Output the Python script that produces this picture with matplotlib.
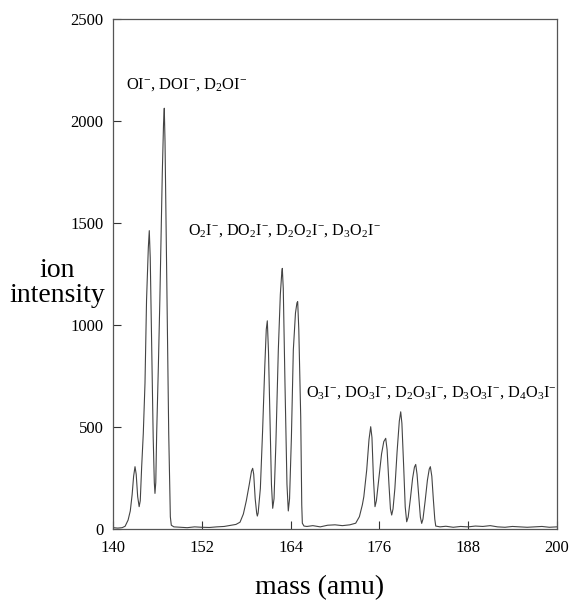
import matplotlib
matplotlib.use("Agg")
import matplotlib.pyplot as plt

plt.rcParams['font.family'] = ['Liberation Serif', 'DejaVu Serif']
plt.rcParams['mathtext.fontset'] = 'custom'
plt.rcParams['mathtext.rm'] = 'Liberation Serif'
plt.rcParams['mathtext.it'] = 'Liberation Serif:italic'
plt.rcParams['mathtext.default'] = 'regular'

# traced spectrum (mass in amu, ion intensity), segment by segment
mass_1 = [140.0, 140.6, 141.2, 141.6, 142.0, 142.3, 142.55, 142.75, 142.94, 143.1, 143.3, 143.5, 143.65]
int_1 = [8, 6, 8, 15, 45, 90, 170, 260, 307, 270, 160, 111, 140]
mass_2 = [143.84, 144.06, 144.29, 144.5, 144.74, 144.87, 145.0, 145.2, 145.4, 145.55, 145.64, 145.75]
int_2 = [307, 470, 716, 1124, 1380, 1464, 1330, 900, 450, 230, 176, 230]
mass_3 = [145.87, 146.1, 146.3, 146.63, 146.8, 146.9, 147.0, 147.22, 147.5, 147.72, 147.85, 148.2]
int_3 = [470, 800, 1124, 1744, 1990, 2064, 1900, 1287, 470, 61, 20, 12]
mass_4 = [149.0, 150.0, 151.0, 152.0, 153.0, 154.0, 155.0, 156.0, 156.6, 157.15, 157.6]
int_4 = [10, 8, 12, 10, 9, 12, 14, 20, 24, 35, 75]
mass_5 = [158.0, 158.4, 158.7, 158.86, 159.0, 159.2, 159.4, 159.49, 159.6, 159.9, 160.2, 160.5, 160.7, 160.84]
int_5 = [140, 220, 285, 299, 270, 150, 80, 65, 80, 200, 480, 800, 980, 1022]
mass_6 = [161.0, 161.2, 161.4, 161.57, 161.75, 162.0, 162.33, 162.6, 162.8, 162.87, 163.0, 163.23, 163.5, 163.68]
int_6 = [870, 552, 220, 103, 150, 420, 879, 1150, 1260, 1279, 1180, 716, 220, 90]
mass_7 = [163.85, 164.1, 164.36, 164.65, 164.85, 164.95, 165.1, 165.36, 165.5, 165.58, 165.8, 166.2]
int_7 = [150, 450, 879, 1060, 1110, 1116, 980, 552, 120, 30, 16, 14]
mass_8 = [167.0, 168.0, 169.0, 170.0, 171.0, 172.0, 172.8, 173.3, 173.7, 173.9, 174.29, 174.6, 174.83]
int_8 = [18, 12, 20, 22, 18, 22, 30, 62, 120, 160, 291, 440, 503]
mass_9 = [175.0, 175.2, 175.41, 175.6, 175.9, 176.3, 176.6, 176.86, 177.05, 177.3, 177.5, 177.67, 177.85]
int_9 = [450, 250, 111, 140, 240, 370, 430, 446, 390, 220, 100, 70, 100]
mass_10 = [178.1, 178.4, 178.7, 178.89, 179.05, 179.3, 179.5, 179.7, 179.9, 180.2, 180.5, 180.75, 180.92]
int_10 = [200, 380, 530, 576, 520, 300, 110, 37, 60, 150, 250, 305, 318]
mass_11 = [181.1, 181.35, 181.55, 181.73, 181.9, 182.2, 182.5, 182.75, 182.9, 183.1, 183.3, 183.5, 183.63]
int_11 = [270, 150, 60, 29, 50, 140, 240, 295, 307, 260, 150, 50, 16]
mass_12 = [184.2, 185.0, 186.0, 187.0, 188.0, 189.0, 190.0, 191.0, 192.0, 193.0, 194.0, 195.0,
           196.0, 197.0, 198.0, 199.0, 200.0]
int_12 = [12, 15, 10, 14, 12, 16, 14, 18, 12, 10, 14, 12,
          10, 12, 14, 10, 12]

mass = (mass_1 + mass_2 + mass_3 + mass_4 + mass_5 + mass_6 + mass_7 + mass_8 + mass_9
        + mass_10 + mass_11 + mass_12)
intensity = (int_1 + int_2 + int_3 + int_4 + int_5 + int_6 + int_7 + int_8 + int_9
             + int_10 + int_11 + int_12)

xticks = [140, 152, 164, 176, 188, 200]
yticks = [0, 500, 1000, 1500, 2000, 2500]

fig = plt.figure(figsize=(5.71, 6.03), dpi=100)
ax = fig.add_axes([0.1984, 0.1222, 0.7766, 0.8458])
ax.plot(mass, intensity, color='#444444', lw=0.8)
ax.set_xlim(140, 200)
ax.set_ylim(0, 2500)
ax.set_xticks(xticks)
ax.set_yticks(yticks)
ax.tick_params(direction='in', length=6, width=0.8, colors='#333333',
               labelcolor='black', labelsize=12)
ax.tick_params(axis='x', pad=8)
ax.tick_params(axis='y', pad=7)
for s in ax.spines.values():
    s.set_color('#555555')
    s.set_linewidth(0.9)

ax.text(141.7, 2178, r"OI$^{-}$, DOI$^{-}$, D$_2$OI$^{-}$", fontsize=11.9, va='center', ha='left')
ax.text(150.1, 1462, r"O$_2$I$^{-}$, DO$_2$I$^{-}$, D$_2$O$_2$I$^{-}$, D$_3$O$_2$I$^{-}$",
        fontsize=11.6, va='center', ha='left')
ax.text(166.1, 668, r"O$_3$I$^{-}$, DO$_3$I$^{-}$, D$_2$O$_3$I$^{-}$, D$_3$O$_3$I$^{-}$, D$_4$O$_3$I$^{-}$",
        fontsize=11.7, va='center', ha='left')

fig.text(0.10, 0.531, "ion\nintensity", fontsize=20, ha='center', va='center', linespacing=1.0)
fig.text(0.56, 0.025, "mass (amu)", fontsize=20, ha='center', va='center')

fig.savefig("out.png", dpi=100)
